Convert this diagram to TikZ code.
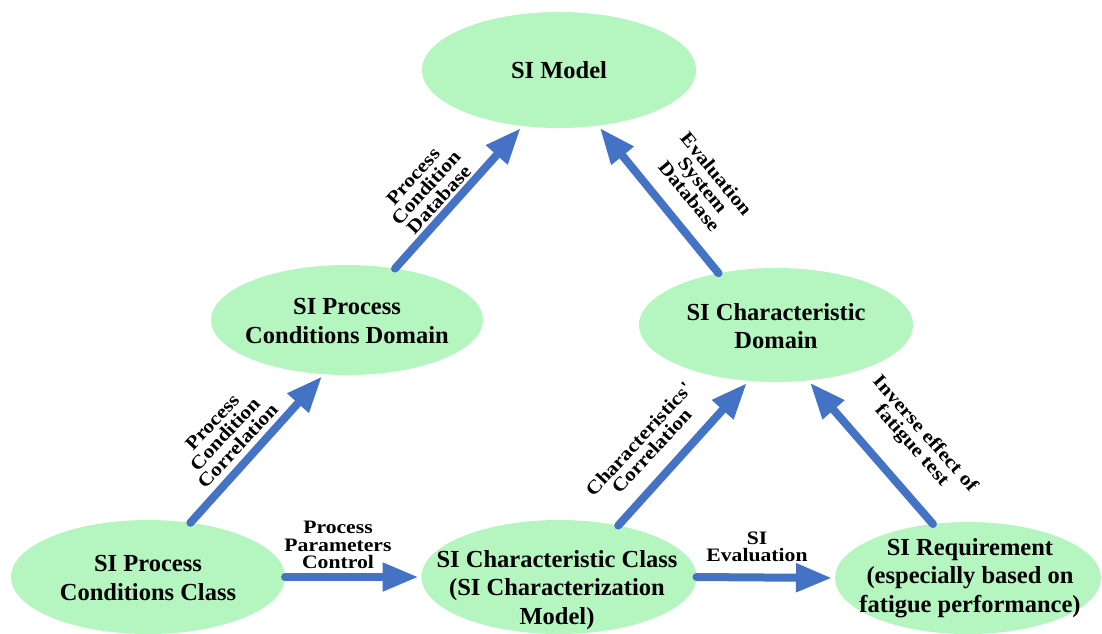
\documentclass[tikz,border=0pt]{standalone}
\usepackage{fontspec}
\setmainfont{Liberation Serif}
\newfontfamily\lblfont[FakeStretch=1.14]{Liberation Serif}
\usetikzlibrary{shapes.geometric,arrows.meta}
\definecolor{ellgreen}{HTML}{B4F5C0}
\definecolor{arrblue}{HTML}{4472C4}
\tikzset{
 ell/.style={ellipse, fill=ellgreen, draw=none, inner sep=0pt, outer sep=0pt},
 etext/.style={align=center, font=\fontsize{24.5}{28.5}\selectfont\bfseries, inner sep=0pt},
 lbl/.style={align=center, font=\lblfont\fontsize{19}{17.5}\selectfont\bfseries, inner sep=0pt},
 conn/.style={draw=arrblue, line width=8pt, line cap=round, -{Triangle[length=36pt,width=27pt]}, shorten >=3pt},
}
\begin{document}
\begin{tikzpicture}[x=1pt,y=-1pt]
\useasboundingbox (0,0) rectangle (1102,633);
\clip (0,0) rectangle (1102,633);
% ellipses
\node[ell, minimum width=274pt, minimum height=116pt] (model) at (559,70) {};
\node[ell, minimum width=272pt, minimum height=110pt] (pcd) at (347,320) {};
\node[ell, minimum width=274pt, minimum height=114pt] (cd) at (776,325) {};
\node[ell, minimum width=274pt, minimum height=114pt] (pcc) at (148,577) {};
\node[ell, minimum width=275pt, minimum height=114pt] (cc) at (559,577) {};
\node[ell, minimum width=266pt, minimum height=112pt] (req) at (968,578) {};
% ellipse texts
\node[etext] (modelt) at (559,70) {SI Model};
\node[etext] (pcdt) at (347,321) {SI Process\\Conditions Domain};
\node[etext] (cdt) at (776,326) {SI Characteristic\\Domain};
\node[etext] (pcct) at (148,578) {SI Process\\Conditions Class};
\node[etext] (cct) at (557,590) {SI Characteristic Class\\(SI Characterization\\Model)};
\node[etext] (reqt) at (970,578) {SI Requirement\\(especially based on\\fatigue performance)};
% connectors
\draw[conn] (pcd.47.7) -- (model.237);
\draw[conn] (cd.138) -- (model.305.2);
\draw[conn] (pcc.52.6) -- (pcd.247.4);
\draw[conn] (cc.41) -- (cd.244.2);
\draw[conn] (req.123.2) -- (cd.300.1);
\draw[conn] (pcc.east) -- (cc.west);
\draw[conn] (cc.east) -- (req.west);
% labels
\node[lbl, rotate=47.7] (l1) at (426,188) {Process\\Condition\\Database};
\node[lbl, rotate=-50.6] (l2) at (703,185) {Evaluation\\System\\Database};
\node[lbl, rotate=47] (l3) at (225,434) {Process\\Condition\\Correlation};
\node[lbl, rotate=47.3] (l4) at (645,445) {Characteristics'\\Correlation};
\node[lbl, rotate=-48.4] (l5) at (918,440) {Inverse effect of\\fatigue test};
\node[lbl] (l6) at (338,545) {Process\\Parameters\\Control};
\node[lbl] (l7) at (757,547) {SI\\Evaluation};
\end{tikzpicture}
\end{document}
